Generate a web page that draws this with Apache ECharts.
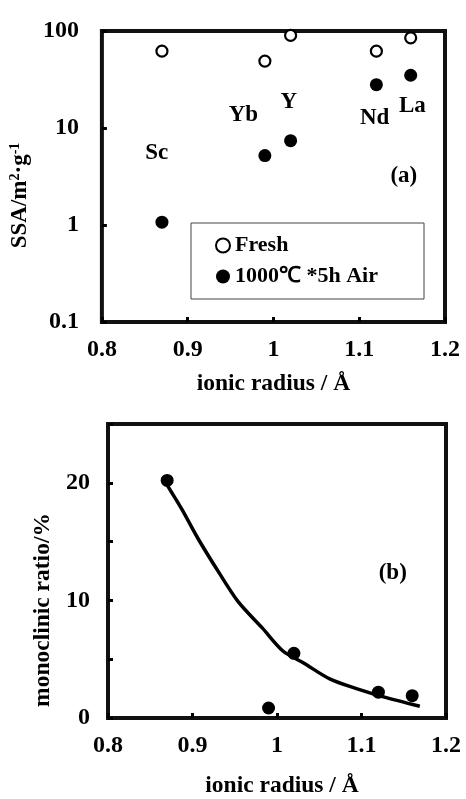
<!DOCTYPE html>
<html>
<head>
<meta charset="utf-8">
<script src="https://cdn.jsdelivr.net/npm/echarts@6/dist/echarts.min.js"></script>
<style>
html,body{margin:0;padding:0;background:#fff;}
#chart{width:466px;height:799px;}
</style>
</head>
<body>
<div id="chart"></div>
<script>
// ---- Data ----
var elements = ['Sc', 'Yb', 'Y', 'Nd', 'La'];
var ionicRadius = [0.87, 0.99, 1.02, 1.12, 1.16];
var ssaFresh = [62, 49, 90, 62, 85];
var ssaAged = [1.07, 5.2, 7.4, 28, 35];
var monoclinicRatio = [20.2, 0.85, 5.5, 2.2, 1.9];
// fitted curve
var fitX = [0.865, 0.871, 0.887, 0.907, 0.931, 0.954, 0.982, 1.007, 1.031, 1.063, 1.094, 1.126, 1.169];
var fitY = [20.5, 19.7, 17.8, 15.2, 12.4, 9.9, 7.7, 5.7, 4.7, 3.3, 2.5, 1.8, 1.0];
// element label anchors (data coords in panel a)
var labelX = [0.864, 0.965, 1.018, 1.118, 1.162];
var labelY = [5.5, 13.6, 18.5, 12.7, 16.9];
var xTicks = [0.8, 0.9, 1.0, 1.1, 1.2];
var ssaTicks = [0.1, 1, 10, 100];
var monoTicks = [0, 10, 20];

var FONT = "'Liberation Serif','Times New Roman',serif";
function zip(a, b) { return a.map(function (v, i) { return [v, b[i]]; }); }

var chart = echarts.init(document.getElementById('chart'), null, {renderer: 'canvas'});

var axisLabelX = {fontFamily: FONT, fontWeight: 'bold', fontSize: 24, color: '#000', margin: 16};
var tick = {show: true, inside: true, length: 5, lineStyle: {color: '#000', width: 3}};
var annLabel = {show: true, position: 'inside', formatter: '{b}', fontFamily: FONT, fontWeight: 'bold', fontSize: 23, color: '#000', opacity: 1};

var option = {
  backgroundColor: '#fff',
  animation: false,
  grid: [
    {left: 95, top: 31, width: 350, height: 291, show: true, borderColor: '#111', borderWidth: 4, backgroundColor: 'transparent'},
    {left: 108, top: 424, width: 338, height: 299, show: true, borderColor: '#111', borderWidth: 4, backgroundColor: 'transparent'}
  ],
  legend: {
    data: ['Fresh', '1000℃ *5h Air'],
    orient: 'vertical',
    left: 191, top: 223,
    padding: [10, 46, 10, 24],
    itemGap: 6,
    itemWidth: 14, itemHeight: 14,
    borderColor: '#444', borderWidth: 1,
    backgroundColor: '#fff',
    textStyle: {fontFamily: FONT, fontWeight: 'bold', fontSize: 22, color: '#000', lineHeight: 25},
    selectedMode: false
  },
  xAxis: [
    {
      gridIndex: 0, type: 'value', min: 0.8, max: 1.2, interval: 0.1,
      name: 'ionic radius / Å', nameLocation: 'middle', nameGap: 50,
      nameTextStyle: {fontFamily: FONT, fontWeight: 'bold', fontSize: 23.5, color: '#000'},
      axisLine: {show: false}, axisTick: tick, splitLine: {show: false},
      axisLabel: axisLabelX
    },
    {
      gridIndex: 1, type: 'value', min: 0.8, max: 1.2, interval: 0.1,
      name: 'ionic radius / Å', nameLocation: 'middle', nameGap: 56,
      nameTextStyle: {fontFamily: FONT, fontWeight: 'bold', fontSize: 23.5, color: '#000', padding: [0, 0, 0, 10]},
      axisLine: {show: false}, axisTick: tick, splitLine: {show: false},
      axisLabel: axisLabelX
    }
  ],
  yAxis: [
    {
      gridIndex: 0, type: 'log', logBase: 10, min: 0.1, max: 100,
      name: '{a|SSA/m}{s|2}{a|·g}{s|-1}', nameLocation: 'middle', nameGap: 56,
      nameTextStyle: {
        padding: [0, 38, 0, 0],
        rich: {
          a: {fontFamily: FONT, fontWeight: 'bold', fontSize: 23, color: '#000', verticalAlign: 'bottom'},
          s: {fontFamily: FONT, fontWeight: 'bold', fontSize: 14, color: '#000', verticalAlign: 'top', padding: [0, 0, 10, 0]}
        }
      },
      axisLine: {show: false}, axisTick: tick, splitLine: {show: false},
      axisLabel: {
        fontFamily: FONT, fontWeight: 'bold', fontSize: 24, color: '#000', margin: 23,
        padding: [0, 0, 16, 0],
        formatter: function (v) { return ssaTicks.indexOf(+v.toPrecision(3)) >= 0 ? String(+v.toPrecision(3)) : ''; }
      }
    },
    {
      gridIndex: 1, type: 'value', min: 0, max: 25, interval: 5,
      name: 'monoclinic ratio/%', nameLocation: 'middle', nameGap: 53,
      nameTextStyle: {fontFamily: FONT, fontWeight: 'bold', fontSize: 23.5, color: '#000', padding: [0, 78, 0, 0]},
      axisLine: {show: false}, axisTick: tick, splitLine: {show: false},
      axisLabel: {
        fontFamily: FONT, fontWeight: 'bold', fontSize: 24, color: '#000', margin: 18,
        padding: [0, 0, 8, 0],
        formatter: function (v) { return monoTicks.indexOf(v) >= 0 ? String(v) : ''; }
      }
    }
  ],
  series: [
    {
      name: 'Fresh', type: 'scatter', xAxisIndex: 0, yAxisIndex: 0,
      data: zip(ionicRadius, ssaFresh),
      symbol: 'circle', symbolSize: 11,
      itemStyle: {color: '#fff', borderColor: '#000', borderWidth: 2.2, opacity: 1}
    },
    {
      name: '1000℃ *5h Air', type: 'scatter', xAxisIndex: 0, yAxisIndex: 0,
      data: zip(ionicRadius, ssaAged),
      symbol: 'circle', symbolSize: 13,
      itemStyle: {color: '#000', opacity: 1}
    },
    {
      name: 'labels', type: 'scatter', xAxisIndex: 0, yAxisIndex: 0,
      data: labelX.map(function (x, i) { return {value: [x, labelY[i]], name: elements[i]}; }),
      symbolSize: 0, silent: true, itemStyle: {opacity: 1},
      label: annLabel
    },
    {
      name: 'panelA', type: 'scatter', xAxisIndex: 0, yAxisIndex: 0,
      data: [{value: [1.152, 3.2], name: '(a)'}],
      symbolSize: 0, silent: true, itemStyle: {opacity: 1},
      label: annLabel
    },
    {
      name: 'fit', type: 'line', xAxisIndex: 1, yAxisIndex: 1,
      data: zip(fitX, fitY), smooth: 0.3, showSymbol: false,
      lineStyle: {color: '#000', width: 3.5}
    },
    {
      name: 'mono', type: 'scatter', xAxisIndex: 1, yAxisIndex: 1,
      data: zip(ionicRadius, monoclinicRatio),
      symbol: 'circle', symbolSize: 13,
      itemStyle: {color: '#000', opacity: 1}
    },
    {
      name: 'panelB', type: 'scatter', xAxisIndex: 1, yAxisIndex: 1,
      data: [{value: [1.137, 12.3], name: '(b)'}],
      symbolSize: 0, silent: true, itemStyle: {opacity: 1},
      label: annLabel
    }
  ]
};
chart.setOption(option);
</script>
</body>
</html>
